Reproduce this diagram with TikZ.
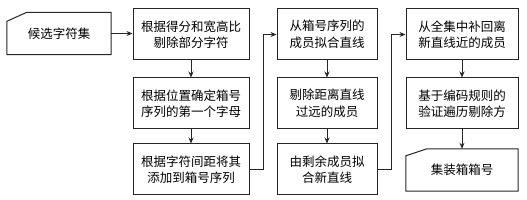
\documentclass[tikz,border=0pt]{standalone}
\usepackage{fontspec}
\newfontfamily\cjk{Noto Sans CJK SC}
\usetikzlibrary{arrows.meta}
\begin{document}
\begin{tikzpicture}[x=1pt,y=-1pt,
 box/.style={draw=black!85, line width=1pt, minimum height=51pt, inner sep=0pt, align=center, font=\cjk\fontsize{12.5}{16.5}\selectfont},
 card/.style={minimum height=42pt, inner sep=0pt, align=center, font=\cjk\fontsize{12.5}{16.5}\selectfont},
 cardline/.style={draw=black!85, line width=1pt, line join=miter},
 arr/.style={-{Stealth[length=6pt,width=5pt]}, line width=0.9pt, draw=black!85}]
\useasboundingbox (0,0) rectangle (527,200);
% input card
\node[card, minimum width=104pt] (in) at (59,33.5) {候选字符集};
\draw[cardline] (in.south west) -- ([yshift=-9pt]in.north west) -- ([xshift=20pt]in.north west) -- (in.north east) -- (in.south east) -- cycle;
% column 1
\node[box, minimum width=116pt] (a1) at (191,34.5) {根据得分和宽高比\\剔除部分字符};
\node[box, minimum width=116pt] (a2) at (191,103.5) {根据位置确定箱号\\序列的第一个字母};
\node[box, minimum width=116pt] (a3) at (191,169.5) {根据字符间距将其\\添加到箱号序列};
% column 2
\node[box, minimum width=100pt] (b1) at (327,34.5) {从箱号序列的\\成员拟合直线};
\node[box, minimum width=100pt] (b2) at (327,103.5) {剔除距离直线\\过远的成员};
\node[box, minimum width=100pt] (b3) at (327,169.5) {由剩余成员拟\\合新直线};
% column 3
\node[box, minimum width=112pt] (c1) at (462,34.5) {从全集中补回离\\新直线近的成员};
\node[box, minimum width=112pt] (c2) at (462,103.5) {基于编码规则的\\验证遍历剔除方};
\node[card, minimum width=112pt] (out) at (462,170) {集装箱箱号};
\draw[cardline] (out.south west) -- ([yshift=-7pt]out.north west) -- ([xshift=21pt]out.north west) -- (out.north east) -- (out.south east) -- cycle;
% connectors
\draw[arr] (in.east) -- (in.east -| a1.west);
\draw[arr] (a1) -- (a2);
\draw[arr] (a2) -- (a3);
\draw[arr] (a3.east) -- ++(14,0) |- (b1.west);
\draw[arr] (b1) -- (b2);
\draw[arr] (b2) -- (b3);
\draw[arr] (b3.east) -- ++(14,0) |- (c1.west);
\draw[arr] (c1) -- (c2);
\draw[arr] (c2.south) -- (out.north);
\end{tikzpicture}
\end{document}
